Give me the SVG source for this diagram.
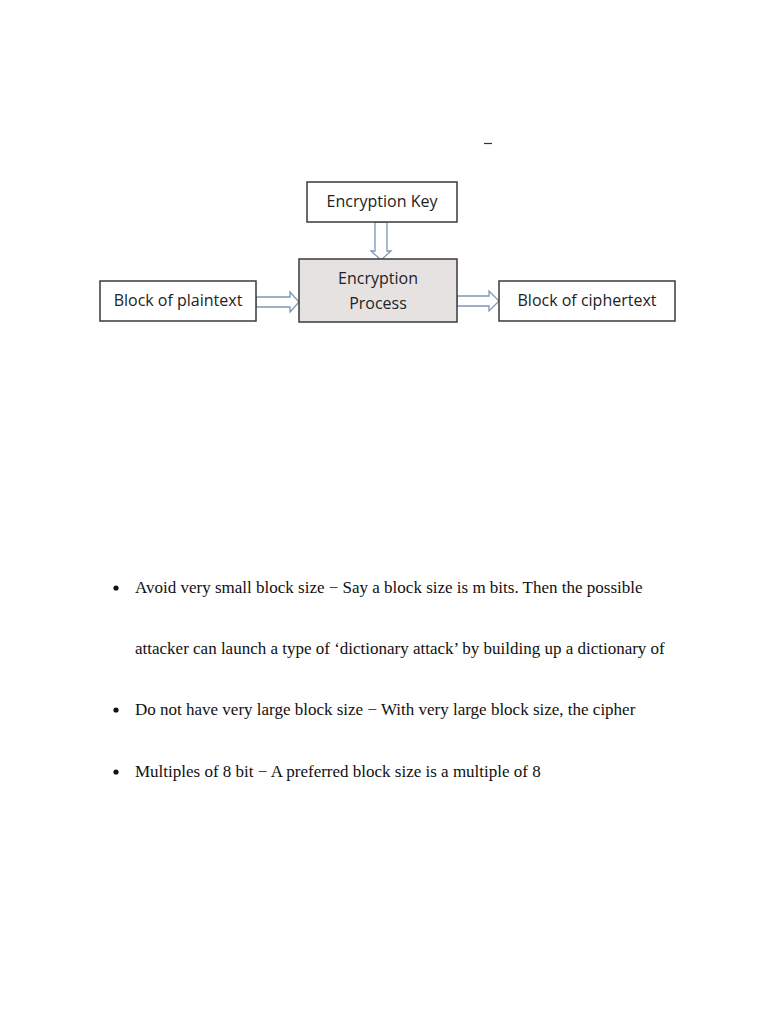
<svg xmlns="http://www.w3.org/2000/svg" width="768" height="1024" viewBox="0 0 768 1024">
<style>
.box{fill:#fff;stroke:#3a3a3a;stroke-width:1.5}
.proc{fill:#e6e2e2;stroke:#3a3a3a;stroke-width:1.5}
.lbl{font-family:"Open Sans","Liberation Sans",sans-serif;font-size:16px;fill:#222;text-anchor:middle}
.arr{fill:#fff;stroke:#7a98b8;stroke-width:1.3;stroke-linejoin:miter}
.body{font-family:"Liberation Serif",serif;font-size:17px;fill:#111}
</style>
<rect width="768" height="1024" fill="#fff"/>
<line x1="484" y1="143.5" x2="492" y2="143.5" stroke="#333" stroke-width="1.2"/>
<g id="connectors">
<path class="arr" d="M375,222 V251 H371 L381,260 L391,251 H387 V222 Z"/>
<path class="arr" d="M256,297 H290 V292 L299,302 L290,312 V307 H256 Z"/>
<path class="arr" d="M457,296 H489 V291 L499,301 L489,311 V306 H457 Z"/>
</g>
<g id="key">
<rect class="box" x="307" y="182" width="150" height="40"/>
<text class="lbl" x="382" y="207">Encryption Key</text>
</g>
<g id="process">
<rect class="proc" x="299" y="259" width="158" height="63"/>
<text class="lbl" x="378" y="284">Encryption</text>
<text class="lbl" x="378" y="309">Process</text>
</g>
<g id="plaintext">
<rect class="box" x="100" y="281" width="156" height="40"/>
<text class="lbl" x="178" y="306">Block of plaintext</text>
</g>
<g id="ciphertext">
<rect class="box" x="499" y="281" width="176" height="40"/>
<text class="lbl" x="587" y="306">Block of ciphertext</text>
</g>
<g id="bullets">
<circle cx="116" cy="588" r="2.6" fill="#111"/>
<text class="body" x="135" y="593">Avoid very small block size − Say a block size is m bits. Then the possible</text>
<text class="body" x="135" y="654">attacker can launch a type of ‘dictionary attack’ by building up a dictionary of</text>
<circle cx="116" cy="710" r="2.6" fill="#111"/>
<text class="body" x="135" y="715">Do not have very large block size − With very large block size, the cipher</text>
<circle cx="116" cy="772" r="2.6" fill="#111"/>
<text class="body" x="135" y="777">Multiples of 8 bit − A preferred block size is a multiple of 8</text>
</g>
</svg>
